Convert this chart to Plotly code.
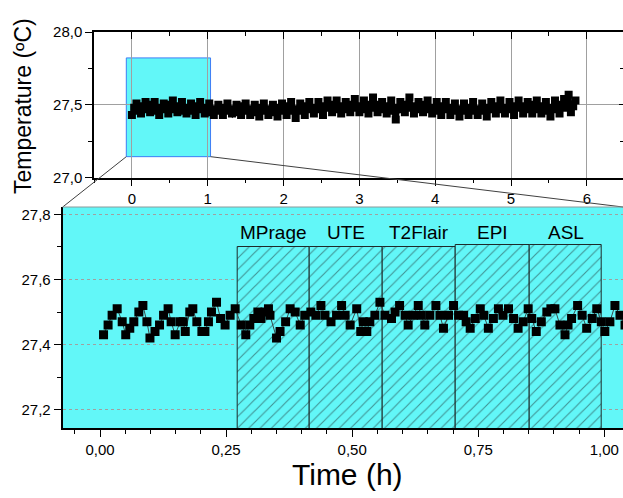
import plotly.graph_objects as go

W, H = 623, 498

# ---- data (bottom, zoomed first hour) ----
zoom_time = [0.007,0.016,0.024,0.034,0.044,0.051,0.059,0.067,0.077,0.085,
             0.093,0.099,0.109,0.118,0.126,0.135,0.141,0.149,0.159,0.165,
             0.169,0.178,0.184,0.192,0.202,0.208,0.215,0.221,0.231,0.239,
             0.248,0.258,0.268,0.280,0.289,0.297,0.305,0.313,0.319,0.327,
             0.334,0.337,0.350,0.357,0.368,0.377,0.387,0.397,0.406,0.418,
             0.428,0.438,0.446,0.458,0.469,0.479,0.486,0.496,0.509,0.517,
             0.522,0.529,0.535,0.545,0.555,0.565,0.578,0.585,0.594,0.605,
             0.611,0.621,0.631,0.637,0.644,0.654,0.666,0.674,0.681,0.691,
             0.701,0.711,0.721,0.726,0.734,0.744,0.754,0.761,0.770,0.780,
             0.790,0.799,0.810,0.820,0.829,0.839,0.849,0.856,0.865,0.875,
             0.886,0.894,0.902,0.912,0.922,0.928,0.935,0.947,0.956,0.965,
             0.976,0.985,0.994,1.001,1.011,1.021,1.031,1.041]
zoom_temp = [27.43,27.46,27.49,27.51,27.47,27.43,27.45,27.47,27.50,27.52,
             27.47,27.42,27.44,27.46,27.49,27.51,27.47,27.43,27.47,27.47,
             27.44,27.50,27.51,27.47,27.44,27.44,27.47,27.50,27.53,27.48,
             27.46,27.49,27.51,27.46,27.43,27.46,27.48,27.50,27.48,27.50,
             27.51,27.49,27.42,27.44,27.47,27.51,27.50,27.46,27.49,27.50,
             27.49,27.52,27.49,27.47,27.49,27.52,27.49,27.46,27.51,27.44,
             27.47,27.44,27.47,27.49,27.53,27.49,27.48,27.50,27.52,27.49,
             27.46,27.49,27.52,27.49,27.46,27.49,27.52,27.49,27.45,27.49,
             27.52,27.49,27.49,27.47,27.45,27.48,27.51,27.49,27.45,27.48,
             27.51,27.49,27.51,27.48,27.45,27.47,27.51,27.48,27.44,27.47,
             27.50,27.51,27.51,27.46,27.43,27.46,27.48,27.52,27.49,27.45,
             27.48,27.51,27.47,27.44,27.47,27.52,27.49,27.46]

# ---- data (top, whole session, sampled every 0.03 h) ----
full_step = 0.03
full_temp = [27.43,27.48,27.51,27.46,27.44,27.49,27.52,27.47,27.45,27.50,
             27.52,27.46,27.43,27.48,27.51,27.47,27.44,27.50,27.53,27.47,
             27.45,27.49,27.52,27.46,27.44,27.48,27.51,27.46,27.43,27.49,
             27.52,27.47,27.44,27.48,27.51,27.45,27.43,27.47,27.50,27.46,
             27.43,27.48,27.51,27.46,27.44,27.47,27.50,27.45,27.43,27.49,
             27.51,27.46,27.43,27.47,27.50,27.45,27.42,27.48,27.51,27.46,
             27.43,27.47,27.50,27.45,27.42,27.48,27.51,27.46,27.43,27.49,
             27.52,27.46,27.41,27.47,27.51,27.46,27.43,27.49,27.52,27.47,
             27.44,27.48,27.52,27.47,27.43,27.49,27.53,27.48,27.45,27.50,
             27.53,27.47,27.44,27.49,27.52,27.47,27.45,27.50,27.54,27.48,
             27.45,27.49,27.53,27.47,27.44,27.50,27.55,27.48,27.45,27.50,
             27.52,27.47,27.44,27.49,27.53,27.46,27.40,27.48,27.52,27.47,
             27.45,27.50,27.55,27.48,27.44,27.49,27.52,27.47,27.45,27.50,
             27.53,27.47,27.44,27.48,27.52,27.46,27.43,27.49,27.52,27.47,
             27.43,27.48,27.51,27.46,27.42,27.47,27.51,27.46,27.43,27.48,
             27.52,27.46,27.43,27.47,27.51,27.46,27.42,27.48,27.52,27.47,
             27.44,27.49,27.53,27.47,27.44,27.48,27.52,27.47,27.43,27.49,
             27.53,27.48,27.44,27.49,27.52,27.47,27.44,27.50,27.53,27.47,
             27.44,27.49,27.52,27.46,27.42,27.48,27.53,27.47,27.44,27.50,
             27.54,27.48,27.57,27.45,27.49,27.53]
full_time = [round(i * full_step, 3) for i in range(len(full_temp))]

# ---- MRI sequences ----
scan_names = ["MPrage", "UTE", "T2Flair", "EPI", "ASL"]
scan_start = [0.273, 0.416, 0.560, 0.706, 0.851]
scan_end = [0.416, 0.560, 0.706, 0.851, 0.995]
scan_top = [27.70, 27.70, 27.70, 27.705, 27.705]

# ---- geometry ----
CYAN = "#62F7F8"
FONT = "Arial, Liberation Sans, sans-serif"
top_xd = [94 / W, 1.0]
top_yd = [(H - 174.5) / H, (H - 24) / H]
bot_xd = [62.7 / W, 1.0]
bot_yd = [(H - 433.7) / H, (H - 205) / H]
top_xr = [-0.5, 6.477]
top_yr = [27.0, 28.0]
bot_xr = [-0.074, 1.037]
bot_yr = [27.1436, 27.823]

def to_paper_x(v):
    return top_xd[0] + (v - top_xr[0]) / (top_xr[1] - top_xr[0]) * (top_xd[1] - top_xd[0])

def to_paper_y(v):
    return top_yd[0] + (v - top_yr[0]) / (top_yr[1] - top_yr[0]) * (top_yd[1] - top_yd[0])

fig = go.Figure()

base_val = 27.0
centers = [(a + b) / 2 for a, b in zip(scan_start, scan_end)]
widths = [b - a for a, b in zip(scan_start, scan_end)]
heights = [t - base_val for t in scan_top]
fig.add_trace(go.Bar(
    x=centers, y=heights, base=base_val, width=widths,
    xaxis="x2", yaxis="y2",
    marker=dict(color=CYAN, line=dict(color="#1f2a2a", width=1),
                pattern=dict(shape="/", fgcolor="#1f2f30", bgcolor=CYAN,
                             size=8, solidity=0.14)),
    showlegend=False, hoverinfo="skip"))

fig.add_trace(go.Scatter(
    x=zoom_time, y=zoom_temp, xaxis="x2", yaxis="y2",
    mode="lines+markers",
    line=dict(color="#3a4a4a", width=1),
    marker=dict(symbol="square", size=9, color="black", line=dict(width=0)),
    showlegend=False))

fig.add_trace(go.Scatter(
    x=full_time, y=full_temp, xaxis="x", yaxis="y",
    mode="lines+markers",
    line=dict(color="black", width=5),
    marker=dict(symbol="square", size=8, color="black", line=dict(width=0)),
    showlegend=False))

# empty traces to realise the mirrored inner-tick axes
fig.add_trace(go.Scatter(x=[], y=[], xaxis="x3", yaxis="y", showlegend=False))
fig.add_trace(go.Scatter(x=[], y=[], xaxis="x", yaxis="y3", showlegend=False))

tickfont = dict(family=FONT, size=15, color="black")

fig.update_layout(
    width=W, height=H, margin=dict(l=0, r=0, t=0, b=0),
    paper_bgcolor="white", plot_bgcolor="rgba(0,0,0,0)",
    separators=",.",
    bargap=0,
    xaxis=dict(domain=top_xd, range=top_xr, anchor="y",
               dtick=1, tick0=0, tickformat="d",
               ticks="outside", ticklen=7, tickwidth=1, tickcolor="black",
               minor=dict(dtick=0.5, tick0=0, ticks="outside", ticklen=4, tickcolor="black", showgrid=False),
               showgrid=True, gridcolor="#a0a0a0", gridwidth=1,
               showline=True, linecolor="black", linewidth=1.5,
               zeroline=False, tickfont=tickfont),
    yaxis=dict(domain=top_yd, range=top_yr, anchor="x",
               dtick=0.5, tick0=27.0, tickformat=".1f",
               ticks="outside", ticklen=7, tickwidth=1, tickcolor="black",
               minor=dict(dtick=0.25, tick0=27.0, ticks="outside", ticklen=4, tickcolor="black", showgrid=False),
               showgrid=True, gridcolor="#a0a0a0", gridwidth=1,
               showline=True, linecolor="black", linewidth=1.5,
               zeroline=False, tickfont=tickfont),
    xaxis3=dict(overlaying="x", side="top", anchor="y", range=top_xr,
                dtick=1, tick0=0, ticks="inside", ticklen=7, tickcolor="black",
                minor=dict(dtick=0.5, tick0=0, ticks="inside", ticklen=4, tickcolor="black", showgrid=False),
                showticklabels=False, showgrid=False, zeroline=False,
                showline=True, linecolor="black", linewidth=1.5),
    yaxis3=dict(overlaying="y", side="right", anchor="x", range=top_yr,
                dtick=0.5, tick0=27.0, ticks="inside", ticklen=4, tickcolor="black",
                minor=dict(dtick=0.25, tick0=27.0, ticks="inside", ticklen=3, tickcolor="black", showgrid=False),
                showticklabels=False, showgrid=False, zeroline=False,
                showline=True, linecolor="black", linewidth=1.5),
    xaxis2=dict(domain=bot_xd, range=bot_xr, anchor="y2",
                dtick=0.25, tick0=0, tickformat=".2f",
                ticks="outside", ticklen=7, tickwidth=1, tickcolor="black",
                minor=dict(dtick=0.05, tick0=0, ticks="outside", ticklen=4, tickcolor="black", showgrid=False),
                showgrid=False, showline=True, linecolor="black", linewidth=2,
                zeroline=False, tickfont=tickfont),
    yaxis2=dict(domain=bot_yd, range=bot_yr, anchor="x2",
                dtick=0.2, tick0=27.0, tickformat=".1f",
                ticks="outside", ticklen=7, tickwidth=1, tickcolor="black",
                minor=dict(dtick=0.1, tick0=27.0, ticks="outside", ticklen=4, tickcolor="black", showgrid=False),
                showgrid=True, gridcolor="#a0a0a0", gridwidth=1, griddash="dot",
                showline=True, linecolor="black", linewidth=2,
                zeroline=False, tickfont=tickfont),
)

shapes = [
    dict(type="rect", xref="x2 domain", yref="y2 domain", x0=0, x1=1, y0=0, y1=1,
         fillcolor=CYAN, line=dict(width=0), layer="below"),
    dict(type="rect", xref="x", yref="y", x0=bot_xr[0], x1=bot_xr[1], y0=bot_yr[0], y1=bot_yr[1],
         fillcolor=CYAN, line=dict(color="#3d7df5", width=1), layer="below"),
    dict(type="line", xref="paper", yref="paper",
         x0=to_paper_x(bot_xr[0]), y0=to_paper_y(bot_yr[0]), x1=bot_xd[0], y1=bot_yd[1],
         line=dict(color="#404040", width=1)),
    dict(type="line", xref="paper", yref="paper",
         x0=to_paper_x(bot_xr[1]), y0=to_paper_y(bot_yr[0]), x1=bot_xd[1], y1=bot_yd[1],
         line=dict(color="#404040", width=1)),
    dict(type="line", xref="paper", yref="paper",
         x0=bot_xd[0], y0=bot_yd[1], x1=bot_xd[1], y1=bot_yd[1],
         line=dict(color="#8a9a9a", width=1)),
]
fig.update_layout(shapes=shapes)

annotations = []
for name, c in zip(scan_names, centers):
    annotations.append(dict(x=c, y=27.746, xref="x2", yref="y2", text=name, showarrow=False,
                            xanchor="center", yanchor="middle",
                            font=dict(family=FONT, size=19, color="black")))
annotations.append(dict(x=22.5 / W, y=(H - 101) / H, xref="paper", yref="paper",
                        text="Temperature (ºC)", textangle=-90, showarrow=False,
                        xanchor="center", yanchor="middle",
                        font=dict(family=FONT, size=23, color="black")))
annotations.append(dict(x=347.5 / W, y=(H - 482) / H, xref="paper", yref="paper",
                        text="Time (h)", showarrow=False,
                        xanchor="center", yanchor="middle",
                        font=dict(family=FONT, size=30, color="black")))
fig.update_layout(annotations=annotations)

fig.write_html("out.html")
